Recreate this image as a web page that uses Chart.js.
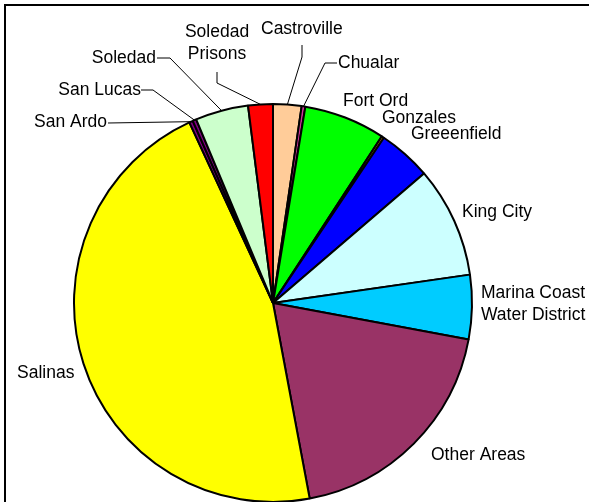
<!DOCTYPE html>
<html>
<head>
<meta charset="utf-8">
<script src="https://cdn.jsdelivr.net/npm/chart.js@4/dist/chart.umd.min.js"></script>
<style>
  html, body { margin: 0; padding: 0; background: #fff; }
  #wrap { width: 589px; height: 502px; position: relative; }
</style>
</head>
<body>
<div id="wrap"><canvas id="c" width="589" height="502"></canvas></div>
<script>
// ---- data ----
const categories = ["Castroville", "Chualar", "Fort Ord", "Gonzales", "Greeenfield", "King City",
  "Marina Coast Water District", "Other Areas", "Salinas", "San Ardo", "San Lucas", "Soledad", "Soledad Prisons"];
const shares = [2.3, 0.3, 6.6, 0.2, 4.3, 9.0, 5.2, 19.1, 46.0, 0.3, 0.3, 4.3, 2.0];
const sliceColors = ["#FFCC99", "#CC3399", "#00FF00", "#FF9900", "#0000FF", "#CCFFFF",
  "#00CCFF", "#993366", "#FFFF00", "#800080", "#800080", "#CCFFCC", "#FF0000"];

// ---- label layout (text lines, anchor, alignment, leader bend points) ----
const labelLayout = [
  { lines: ["Castroville"], x: 261, y: 29, align: "left", leader: [[302, 45], [302, 57]] },
  { lines: ["Chualar"], x: 338, y: 63, align: "left", leader: [[337, 63], [325, 63]] },
  { lines: ["Fort Ord"], x: 343, y: 101, align: "left" },
  { lines: ["Gonzales"], x: 382, y: 118, align: "left" },
  { lines: ["Greeenfield"], x: 411, y: 134, align: "left" },
  { lines: ["King City"], x: 462, y: 212, align: "left" },
  { lines: ["Marina Coast", "Water District"], x: 481, y: 293, align: "left" },
  { lines: ["Other Areas"], x: 431, y: 455, align: "left" },
  { lines: ["Salinas"], x: 17, y: 373, align: "left" },
  { lines: ["San Ardo"], x: 107, y: 122, align: "right", leader: [[108, 123]] },
  { lines: ["San Lucas"], x: 141, y: 90, align: "right", leader: [[141, 90], [153, 90]] },
  { lines: ["Soledad"], x: 156, y: 58, align: "right", leader: [[157, 58], [170, 58]] },
  { lines: ["Soledad", "Prisons"], x: 217, y: 32, align: "center", leader: [[217, 72], [217, 83]] }
];

const frameAndLabels = {
  id: "frameAndLabels",
  beforeDraw(chart) {
    const ctx = chart.ctx;
    ctx.save();
    ctx.fillStyle = "#000";
    ctx.fillRect(4, 4, chart.width - 4, 2);
    ctx.fillRect(4, 4, 2, chart.height - 4);
    ctx.restore();
  },
  afterDraw(chart) {
    const ctx = chart.ctx;
    const arcs = chart.getDatasetMeta(0).data;
    ctx.save();
    ctx.font = '17.5px "Liberation Sans", Arial, sans-serif';
    ctx.fillStyle = "#000";
    ctx.textBaseline = "middle";
    labelLayout.forEach((lab, i) => {
      ctx.textAlign = lab.align;
      lab.lines.forEach((t, k) => ctx.fillText(t, lab.x, lab.y + k * 22));
      if (lab.leader) {
        const a = arcs[i];
        const p = a.getProps(["x", "y", "startAngle", "endAngle", "outerRadius"], true);
        const mid = (p.startAngle + p.endAngle) / 2;
        const ex = p.x + Math.cos(mid) * p.outerRadius;
        const ey = p.y + Math.sin(mid) * p.outerRadius;
        ctx.strokeStyle = "#000";
        ctx.lineWidth = 1;
        ctx.beginPath();
        ctx.moveTo(lab.leader[0][0], lab.leader[0][1]);
        for (let k = 1; k < lab.leader.length; k++) ctx.lineTo(lab.leader[k][0], lab.leader[k][1]);
        ctx.lineTo(ex, ey);
        ctx.stroke();
      }
    });
    ctx.restore();
  }
};

new Chart(document.getElementById("c"), {
  type: "pie",
  data: {
    labels: categories,
    datasets: [{
      data: shares,
      backgroundColor: sliceColors,
      borderColor: "#000",
      borderWidth: 2
    }]
  },
  options: {
    responsive: false,
    animation: false,
    radius: 199,
    layout: { padding: { left: 0, right: 43, top: 104, bottom: 0 } },
    plugins: { legend: { display: false }, tooltip: { enabled: false } }
  },
  plugins: [frameAndLabels]
});
</script>
</body>
</html>
